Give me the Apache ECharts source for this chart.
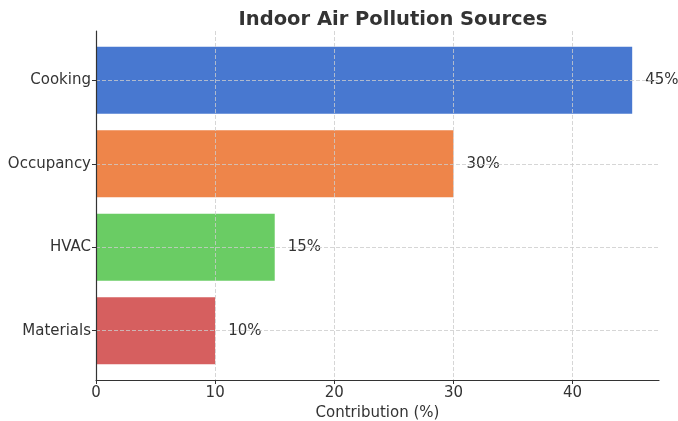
<!DOCTYPE html>
<html>
<head>
<meta charset="utf-8">
<script src="https://cdn.jsdelivr.net/npm/echarts@6/dist/echarts.min.js"></script>
<style>
  html, body { margin: 0; padding: 0; background: #fff; }
  #chart { width: 678px; height: 421px; }
</style>
</head>
<body>
<div id="chart"></div>
<script>
// Pollution source shares, listed bottom to top
const sources = ['Materials', 'HVAC', 'Occupancy', 'Cooking'];
const contribution = [10, 15, 30, 45];
const barColors = ['#d65f5f', '#6acc64', '#ee854a', '#4878d0'];
const xTicks = [0, 10, 20, 30, 40];

const FONT = 'DejaVu Sans';
const positions = sources.map((_, i) => i);
const barHalf = 0.4;

const chart = echarts.init(document.getElementById('chart'), null, { renderer: 'canvas' });

chart.setOption({
  animation: false,
  backgroundColor: '#ffffff',
  title: {
    text: 'Indoor Air Pollution Sources',
    left: 388,
    top: 5,
    textAlign: 'center',
    textStyle: { fontFamily: FONT, fontSize: 19.5, fontWeight: 'bold', color: '#333333' }
  },
  grid: { left: 96, right: 19, top: 31, bottom: 41, containLabel: false, outerBoundsMode: 'none' },
  xAxis: {
    type: 'value',
    min: 0,
    max: 47.25,
    z: 5,
    name: 'Contribution (%)',
    nameLocation: 'middle',
    nameGap: 26,
    nameTextStyle: { fontFamily: FONT, fontSize: 15, color: '#333333' },
    axisLine: { show: true, onZero: false, lineStyle: { color: '#333333', width: 1.2 } },
    axisTick: { show: true, length: 4, customValues: xTicks, lineStyle: { color: '#333333', width: 1 } },
    axisLabel: { customValues: xTicks, margin: 6, fontFamily: FONT, fontSize: 15, color: '#333333' },
    splitLine: { show: true, lineStyle: { color: '#cccccc', type: [4, 2], width: 0.8 } }
  },
  yAxis: {
    type: 'value',
    min: -0.59,
    max: 3.59,
    z: 5,
    axisLine: { show: true, onZero: false, lineStyle: { color: '#333333', width: 1.2 } },
    axisTick: { show: true, length: 4, customValues: positions, lineStyle: { color: '#333333', width: 1 } },
    axisLabel: {
      customValues: positions,
      margin: 5,
      fontFamily: FONT,
      fontSize: 15,
      color: '#333333',
      formatter: v => sources[Math.round(v)] || ''
    },
    splitLine: { show: true, lineStyle: { color: '#cccccc', type: [4, 2], width: 0.8 } }
  },
  series: [{
    type: 'custom',
    z: 2,
    data: contribution.map((v, i) => [v, positions[i], i]),
    encode: { x: 0, y: 1 },
    renderItem: function (params, api) {
      const value = api.value(0);
      const pos = api.value(1);
      const idx = api.value(2);
      const topLeft = api.coord([0, pos + barHalf]);
      const bottomRight = api.coord([value, pos - barHalf]);
      return {
        type: 'group',
        children: [
          {
            type: 'rect',
            shape: {
              x: topLeft[0],
              y: topLeft[1],
              width: bottomRight[0] - topLeft[0],
              height: bottomRight[1] - topLeft[1]
            },
            style: { fill: barColors[idx] }
          },
          {
            type: 'text',
            x: bottomRight[0] + 13,
            y: (topLeft[1] + bottomRight[1]) / 2,
            style: {
              text: value + '%',
              fontFamily: FONT,
              fontSize: 15,
              fill: '#333333',
              align: 'left',
              verticalAlign: 'middle'
            }
          }
        ]
      };
    }
  }]
});
</script>
</body>
</html>
